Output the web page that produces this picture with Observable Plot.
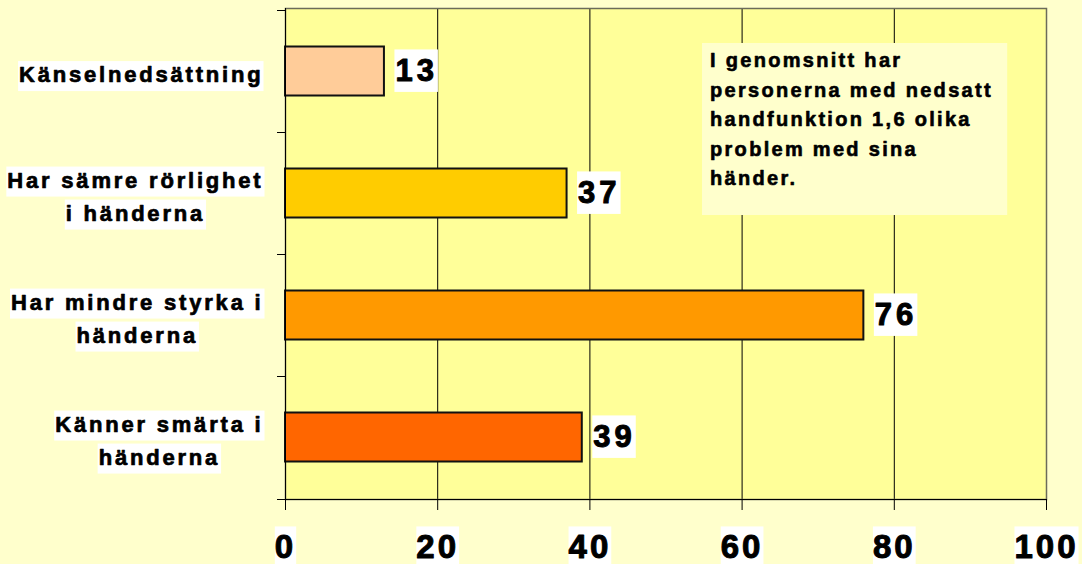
<!DOCTYPE html>
<html>
<head>
<meta charset="utf-8">
<script src="https://cdn.jsdelivr.net/npm/d3@7"></script>
<script src="https://cdn.jsdelivr.net/npm/@observablehq/plot@0.6"></script>
<style>
  html, body { margin: 0; padding: 0; background: #FFFFCC; }
  #chart { width: 1082px; height: 564px; overflow: hidden; }
  #chart svg { display: block; }
</style>
</head>
<body>
<div id="chart"></div>
<script>
// ---- data ----
const categories = [
  "Känselnedsättning",
  "Har sämre rörlighet\ni händerna",
  "Har mindre styrka i\nhänderna",
  "Känner smärta i\nhänderna"
];
const values = [13, 37, 76, 39];
const barColors = ["#FFCC99", "#FFCC00", "#FF9900", "#FF6600"];
const xTicks = [0, 20, 40, 60, 80, 100];
const noteLines = [
  "I genomsnitt har",
  "personerna med nedsatt",
  "handfunktion 1,6 olika",
  "problem med sina",
  "händer."
];
const noteRange = [54.8, 94.9]; // note box extent in x-axis units

const data = categories.map((c, i) => ({cat: c, value: values[i], color: barColors[i]}));
const FONT = "Arial, 'Liberation Sans', Helvetica, sans-serif";

function pickArgs(a, b, c, d) {
  const scales = (b && typeof b.x === "function") ? b : a;
  const dims = d || b;
  return {scales, dims};
}

// axis lines + category boundary ticks
function axisLines(a, b, c, d) {
  const {scales, dims} = pickArgs(a, b, c, d);
  const x0 = scales.x(0), x1 = scales.x(100);
  const top = dims.marginTop, bottom = dims.height - dims.marginBottom;
  const g = d3.create("svg:g").attr("stroke", "#000").attr("stroke-width", 1).attr("shape-rendering", "crispEdges");
  g.append("line").attr("x1", x0).attr("x2", x0).attr("y1", top).attr("y2", bottom);
  const n = categories.length;
  const bounds = categories.map((cat, i) => (typeof scales.y === "function" ? scales.y(cat) : top + i * (bottom - top) / n));
  bounds.push(bottom);
  bounds.forEach(y => g.append("line").attr("x1", x0 - 8).attr("x2", x0).attr("y1", y).attr("y2", y));
  g.append("line").attr("x1", x0 - 8).attr("x2", x1).attr("y1", bottom).attr("y2", bottom);
  return g.node();
}

// annotation note box
function noteMark(a, b, c, d) {
  const {scales, dims} = pickArgs(a, b, c, d);
  const xa = scales.x(noteRange[0]), xb = scales.x(noteRange[1]);
  const top = dims.marginTop + 35, h = 172;
  const g = d3.create("svg:g");
  g.append("rect").attr("x", xa).attr("y", top).attr("width", xb - xa).attr("height", h).attr("fill", "#FFFFCC");
  const t = g.append("text").attr("font-family", FONT).attr("font-size", 20).attr("font-weight", "bold")
    .attr("text-anchor", "start")
    .attr("fill", "#000").attr("stroke", "#000").attr("stroke-width", 0.6).attr("stroke-linejoin", "round")
    .style("letter-spacing", "2.3px");
  noteLines.forEach((line, i) => {
    t.append("tspan").attr("x", xa + 8).attr("y", top + 24 + i * 29.5).text(line);
  });
  return g.node();
}

const chart = Plot.plot({
  width: 1082,
  height: 564,
  marginLeft: 285,
  marginRight: 36,
  marginTop: 8,
  marginBottom: 65,
  style: {background: "transparent", fontFamily: FONT, color: "#000", overflow: "visible"},
  x: {domain: [0, 100]},
  y: {domain: categories, padding: 0, axis: null},
  color: {type: "identity"},
  marks: [
    Plot.frame({fill: "#FFFF99"}),
    Plot.ruleX(xTicks.filter(t => t > 0 && t < 100), {stroke: "#000", strokeWidth: 1}),
    Plot.frame({stroke: "#6b6b5a", strokeWidth: 1.5}),
    noteMark,
    Plot.barX(data, {x: "value", y: "cat", fill: "color", stroke: "#111", strokeWidth: 2, insetTop: 36.5, insetBottom: 36.5}),
    axisLines,
    Plot.axisX({ticks: xTicks, tickSize: 11, tickPadding: 24, fontSize: 33, fontWeight: "bold", label: null, tickFormat: d => String(d)}),
    Plot.text(data, {x: "value", y: "cat", text: d => String(d.value), dx: 11, textAnchor: "start", fontSize: 31, fontWeight: "bold", fill: "#000"}),
    Plot.text(data, {y: "cat", text: "cat", frameAnchor: "left", dx: -22, textAnchor: "end", lineAnchor: "middle", lineHeight: 1.5, fontSize: 22, fontWeight: "bold", fill: "#000"})
  ]
});

document.getElementById("chart").append(chart);

// ---- post-processing: letter spacing, heavier strokes, centred label lines, white label boxes ----
const SVGNS = "http://www.w3.org/2000/svg";
function addBox(text, x, y, w, h) {
  const r = document.createElementNS(SVGNS, "rect");
  r.setAttribute("x", x); r.setAttribute("y", y);
  r.setAttribute("width", w); r.setAttribute("height", h);
  r.setAttribute("fill", "#FFFFFF");
  r.setAttribute("stroke", "none");
  const tr = text.getAttribute("transform");
  if (tr) r.setAttribute("transform", tr);
  text.parentNode.insertBefore(r, text);
}
function heavy(t, w) {
  t.setAttribute("stroke", "#000");
  t.setAttribute("stroke-width", w);
  t.setAttribute("stroke-linejoin", "round");
}

const textGroups = chart.querySelectorAll('g[aria-label="text"]');
const valueG = textGroups[0], catG = textGroups[1];
const axisG = chart.querySelector('g[aria-label="x-axis tick label"]');

valueG.querySelectorAll("text").forEach(t => { t.style.letterSpacing = "4px"; heavy(t, 1); });
catG.querySelectorAll("text").forEach(t => { t.style.letterSpacing = "2.8px"; heavy(t, 0.7); });
if (axisG) axisG.querySelectorAll("text").forEach(t => { t.style.letterSpacing = "3px"; heavy(t, 1); });

valueG.querySelectorAll("text").forEach(t => {
  const bb = t.getBBox();
  addBox(t, bb.x - 1, bb.y - 4, bb.width + 1, bb.height + 7.5);
});

if (axisG) axisG.querySelectorAll("text").forEach(t => {
  const bb = t.getBBox();
  addBox(t, bb.x, bb.y - 1.5, bb.width, bb.height + 6);
});

catG.querySelectorAll("text").forEach(t => {
  const spans = t.querySelectorAll("tspan");
  if (spans.length) {
    const ox = parseFloat(t.getAttribute("x")) || 0;
    const ws = [...spans].map(s => s.getComputedTextLength());
    const maxW = Math.max(...ws);
    t.setAttribute("text-anchor", "middle");
    spans.forEach(s => s.setAttribute("x", ox - maxW / 2));
    const bbAll = t.getBBox();
    const lh = bbAll.height / spans.length;
    spans.forEach((s, i) => {
      let ey, eh;
      try { const e = s.getExtentOfChar(0); ey = e.y; eh = e.height; }
      catch (err) { ey = bbAll.y + i * lh; eh = lh; }
      const w = ws[i];
      addBox(t, ox - maxW / 2 - w / 2 - 1, ey - 1, w + 2, eh + 5);
    });
  } else {
    const bb = t.getBBox();
    addBox(t, bb.x - 1, bb.y - 1, bb.width + 1, bb.height + 5);
  }
});
</script>
</body>
</html>
